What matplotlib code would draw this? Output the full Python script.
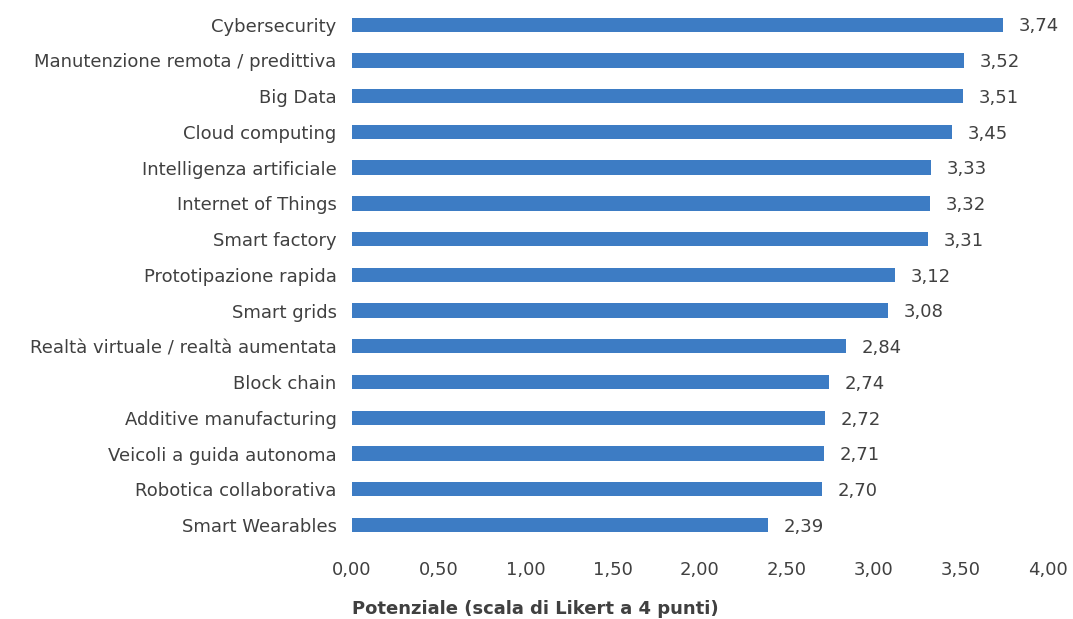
import matplotlib
matplotlib.use("Agg")
import matplotlib.pyplot as plt
from matplotlib.ticker import FuncFormatter

# Tecnologie e potenziale medio (scala di Likert a 4 punti)
tecnologie = [
    "Cybersecurity",
    "Manutenzione remota / predittiva",
    "Big Data",
    "Cloud computing",
    "Intelligenza artificiale",
    "Internet of Things",
    "Smart factory",
    "Prototipazione rapida",
    "Smart grids",
    "Realtà virtuale / realtà aumentata",
    "Block chain",
    "Additive manufacturing",
    "Veicoli a guida autonoma",
    "Robotica collaborativa",
    "Smart Wearables",
]
potenziale = [3.74, 3.52, 3.51, 3.45, 3.33, 3.32, 3.31, 3.12, 3.08,
              2.84, 2.74, 2.72, 2.71, 2.70, 2.39]
tick_valori = [0, 0.5, 1, 1.5, 2, 2.5, 3, 3.5, 4]

colore_barre = "#3d7cc4"
colore_testo = "#404040"
fs = 13

plt.rcParams["font.family"] = ["DejaVu Sans"]

fig = plt.figure(figsize=(10.73, 6.19), dpi=100)
ax = fig.add_axes([0.328, 0.123, 0.6487, 0.866])

pos = list(range(len(tecnologie)))
ax.barh(pos, potenziale, height=0.4, color=colore_barre)

for y, v in zip(pos, potenziale):
    ax.text(v + 0.09, y + 0.05, f"{v:.2f}".replace(".", ","), va="center", ha="left",
            fontsize=fs, color=colore_testo)

ax.set_ylim(len(tecnologie) - 0.5, -0.5)
ax.set_xlim(0, 4)
ax.set_yticks(pos)
ax.set_yticklabels(tecnologie, fontsize=fs, color=colore_testo)
ax.set_xticks(tick_valori)
ax.xaxis.set_major_formatter(FuncFormatter(lambda v, _: f"{v:.2f}".replace(".", ",")))
ax.tick_params(axis="x", labelsize=fs, labelcolor=colore_testo, length=0, pad=13)
ax.tick_params(axis="y", length=0, pad=11)
for s in ax.spines.values():
    s.set_visible(False)

ax.set_xlabel("Potenziale (scala di Likert a 4 punti)", fontsize=fs,
              fontweight="bold", color=colore_testo, labelpad=15, loc="left")

fig.savefig("out.png", dpi=100)
